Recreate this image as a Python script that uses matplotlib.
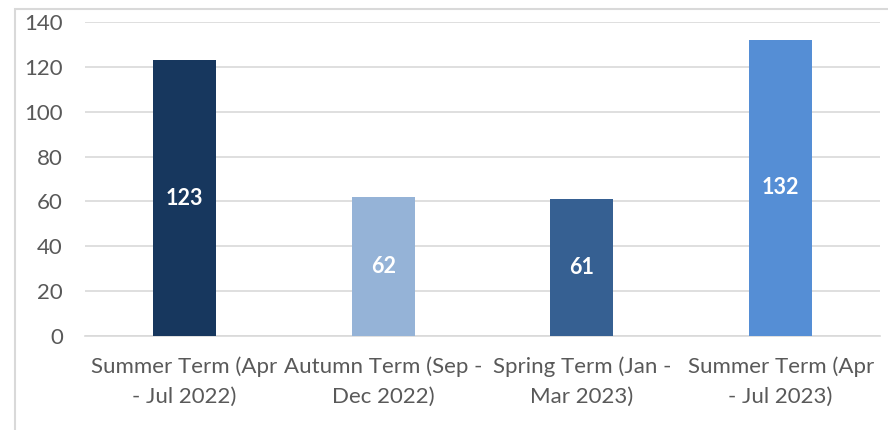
import matplotlib
matplotlib.use("Agg")
import matplotlib.pyplot as plt
from matplotlib.patches import Rectangle

categories = ["Summer Term (Apr\n- Jul 2022)", "Autumn Term (Sep -\nDec 2022)",
              "Spring Term (Jan -\nMar 2023)", "Summer Term (Apr\n- Jul 2023)"]
values = [123, 62, 61, 132]
colors = ["#17375E", "#95B3D7", "#366092", "#558ED5"]
yticks = [0, 20, 40, 60, 80, 100, 120, 140]

plt.rcParams['font.family'] = ['Lato', 'DejaVu Sans']

fig = plt.figure(figsize=(8.88, 4.30), dpi=100)
ax = fig.add_axes([85/888, 1-336/430, 795/888, 314/430])

x = list(range(len(values)))
bars = ax.bar(x, values, width=0.317, color=colors, zorder=3)
for xi, v in zip(x, values):
    ax.text(xi, v/2, str(v), ha='center', va='center', color='white',
            fontsize=15.5, fontweight='bold', zorder=4)

ax.set_xlim(-0.5, len(values)-0.5)
ax.set_ylim(0, 140)
ax.set_yticks(yticks)
ax.set_xticks(x)
ax.set_xticklabels(categories, fontsize=16, color='#595959', linespacing=1.6)
ax.tick_params(axis='y', labelsize=16, labelcolor='#595959', length=0, pad=16)
ax.tick_params(axis='x', length=0, pad=15)
ax.yaxis.grid(True, color='#d9d9d9', linewidth=1.2, zorder=0)
for s in ['top', 'right', 'left']:
    ax.spines[s].set_visible(False)
ax.spines['bottom'].set_color('#d9d9d9')
ax.spines['bottom'].set_linewidth(1.2)

fig.patches.append(Rectangle((15/888, -0.1), 2, (430-9)/430 + 0.1,
                             transform=fig.transFigure, fill=False,
                             edgecolor='#d9d9d9', linewidth=1.5, zorder=0))

fig.savefig("out.png", dpi=100)
